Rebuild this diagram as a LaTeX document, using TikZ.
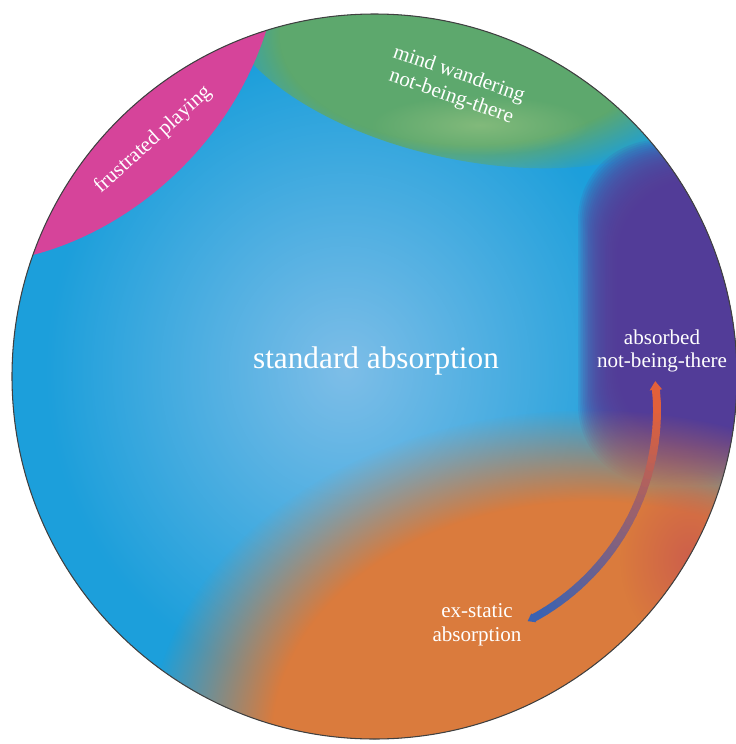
\documentclass[tikz,border=0pt]{standalone}
\usepackage{fontspec}
\setmainfont{Liberation Serif}
\usetikzlibrary{arrows.meta,fadings,calc}

% flat in the middle, fuzzy towards the rim
\pgfdeclareradialshading{softblob}{\pgfpointorigin}{color(0bp)=(white); color(18bp)=(white); color(25bp)=(black); color(50bp)=(black)}
\pgfdeclarefading{softblob}{\pgfuseshading{softblob}}
% fades evenly from the centre out
\tikzfading[name=softhaze, inner color=transparent!0, outer color=transparent!100]

\definecolor{deepblue}{HTML}{1C9FDB}
\definecolor{paleblue}{HTML}{7EBEE8}
\definecolor{moss}{HTML}{5DA86D}
\definecolor{lightmoss}{HTML}{82BA7B}
\definecolor{absviolet}{HTML}{5A3C98}
\definecolor{ember}{HTML}{DA7B3D}
\definecolor{rust}{HTML}{CD5F4B}
\definecolor{rose}{HTML}{D6449A}
\definecolor{arrowblue}{HTML}{3A62B2}
\definecolor{arrowred}{HTML}{E2603A}

\tikzset{
  blob/.style={fill=#1, path fading=softblob},
  haze/.style={fill=#1, path fading=softhaze},
  statetext/.style={text=white, align=center, inner sep=0pt, font=\fontsize{12}{13.5}\selectfont},
  shaft/.style={line width=4.5pt, line cap=round}
}

\begin{document}
\begin{tikzpicture}[x=0.02cm, y=-0.02cm]
  \useasboundingbox (0,0) rectangle (735,744);
  \coordinate (mid) at (374.5,376.5);
  \coordinate (bend) at (420,410);

  \begin{scope}
    \clip (mid) circle[radius=362.5];
    % blue field with a lighter core
    \fill[deepblue] (mid) circle[radius=362.5];
    \fill[haze=paleblue] (345,370) ellipse[x radius=300, y radius=320];

    % mind wandering (top)
    \fill[blob=moss, rotate around={-12:(470,35)}] (470,35) ellipse[x radius=255, y radius=125];
    \fill[haze=lightmoss] (480,125) ellipse[x radius=110, y radius=30];

    % absorbed not-being-there (right), soft edge from stacked layers
    \foreach \k in {0,...,23}
      \fill[absviolet, fill opacity=0.12, rounded corners=1.6cm]
        (578+1.7*\k,140+1.7*\k) rectangle (790,485-1.7*\k);

    % ex-static absorption (bottom)
    \fill[blob=ember] (590,740) ellipse[x radius=440, y radius=330];
    \fill[haze=rust] (690,560) ellipse[x radius=70, y radius=90];

    % frustrated playing
    \fill[rose] (20,258) .. controls (130,235) and (240,140) .. (272,10) -- (0,0) -- cycle;
  \end{scope}
  \draw[black!75, line width=0.6pt] (mid) circle[radius=362.5];

  % curved arrow, blue tail to red head
  \foreach \i [evaluate=\i as \a using 60-2*\i,
               evaluate=\i as \b using 58-2*\i,
               evaluate=\i as \p using \i*100/30] in {0,...,30}
    \draw[shaft, arrowred!\p!arrowblue] ($(bend)+(\a:237)$) -- ($(bend)+(\b:237)$);
  \draw[line width=4.5pt, arrowred, -{Triangle[length=5pt,width=6.8pt]}]
    ($(bend)+(-2:237)$) -- ($(bend)+(-7:237)$);
  \draw[line width=4.5pt, arrowblue, {Triangle[length=4pt,width=5.5pt]}-]
    ($(bend)+(63:237)$) -- ($(bend)+(60:237)$);

  \node[statetext, font=\fontsize{17.8}{20}\selectfont, anchor=base] (standard) at (376,368) {standard absorption};
  \node[statetext, rotate=-19] (wander) at (455,86) {mind wandering\\not-being-there};
  \node[statetext, rotate=42] (frustrated) at (153,140) {frustrated playing};
  \node[statetext] (absorbed) at (662,351) {absorbed\\not-being-there};
  \node[statetext] (ecstatic) at (477,625) {ex-static\\absorption};
\end{tikzpicture}
\end{document}
